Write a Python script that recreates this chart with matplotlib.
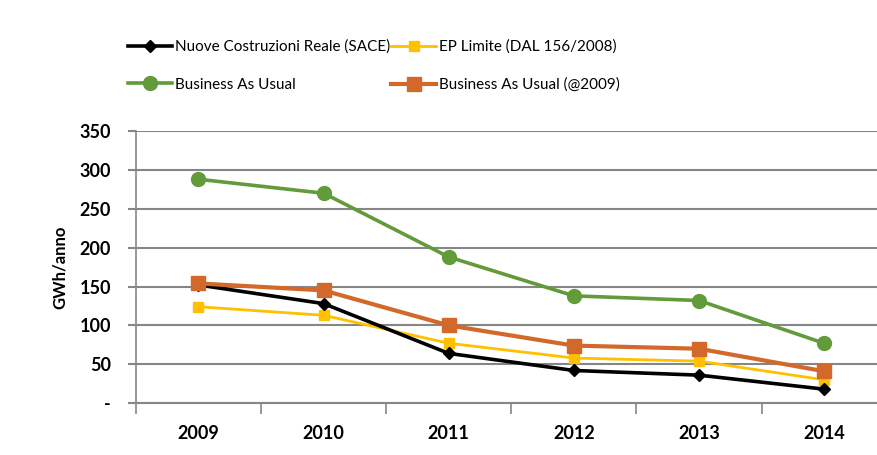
import matplotlib.pyplot as plt
from matplotlib.ticker import FixedLocator, FuncFormatter

years = ['2009', '2010', '2011', '2012', '2013', '2014']
nuove_reale = [152, 128, 64, 42, 36, 18]
ep_limite = [124, 113, 77, 58, 54, 30]
bau = [288, 270, 188, 138, 132, 77]
bau_2009 = [154, 145, 100, 74, 70, 41]

plt.rcParams['font.family'] = ['Lato', 'DejaVu Sans']

fig = plt.figure(figsize=(8.77, 4.55), dpi=100)
ax = fig.add_axes([0.155, 0.114, 0.856, 0.598])

x = list(range(len(years)))
grid_c = '#868686'

l_green, = ax.plot(x, bau, color='#629B3A', lw=2.6, marker='o', ms=10, zorder=3)
l_orange, = ax.plot(x, bau_2009, color='#D2692A', lw=3, marker='s', ms=10, zorder=4)
l_yellow, = ax.plot(x, ep_limite, color='#FFC000', lw=2, marker='s', ms=7, zorder=3)
l_black, = ax.plot(x, nuove_reale, color='black', lw=2.6, marker='D', ms=6.5, zorder=3)

ax.set_xlim(-0.5, len(years) - 0.5)
ax.set_ylim(0, 350)
ax.set_yticks(range(0, 351, 50))
ax.yaxis.set_major_formatter(FuncFormatter(lambda v, p: '-' if v == 0 else f'{int(v)}'))
ax.set_xticks(x)
ax.set_xticklabels(years)
ax.xaxis.set_minor_locator(FixedLocator([i - 0.5 for i in range(len(years))]))
ax.tick_params(axis='x', which='major', length=0, pad=16, labelsize=13)
ax.tick_params(axis='x', which='minor', length=8, color=grid_c, width=1.2)
ax.tick_params(axis='y', length=6, color=grid_c, width=1.5, labelsize=13, pad=12)
for t in ax.get_xticklabels() + ax.get_yticklabels():
    t.set_fontweight('bold')

ax.grid(axis='y', color=grid_c, lw=1.5)
ax.set_axisbelow(True)
for s in ['top', 'right']:
    ax.spines[s].set_visible(False)
ax.spines['left'].set_color(grid_c)
ax.spines['bottom'].set_color(grid_c)
ax.spines['left'].set_linewidth(1.2)
ax.spines['bottom'].set_linewidth(1.5)

ax.set_ylabel('GWh/anno', fontsize=12, fontweight='bold', labelpad=8)

# row-major order in the picture, matplotlib fills columns first
fig.legend([l_black, l_green, l_yellow, l_orange],
           ['Nuove Costruzioni Reale (SACE)', 'Business As Usual',
            'EP Limite (DAL 156/2008)', 'Business As Usual (@2009)'],
           ncol=2, frameon=False, loc='upper left', bbox_to_anchor=(0.146, 0.913),
           borderaxespad=0, borderpad=0, handlelength=2.9, handletextpad=0.2,
           columnspacing=0.05, labelspacing=1.55,
           prop={'family': ['Liberation Sans Narrow', 'Lato'], 'size': 11})

fig.savefig('out.png', dpi=100)
